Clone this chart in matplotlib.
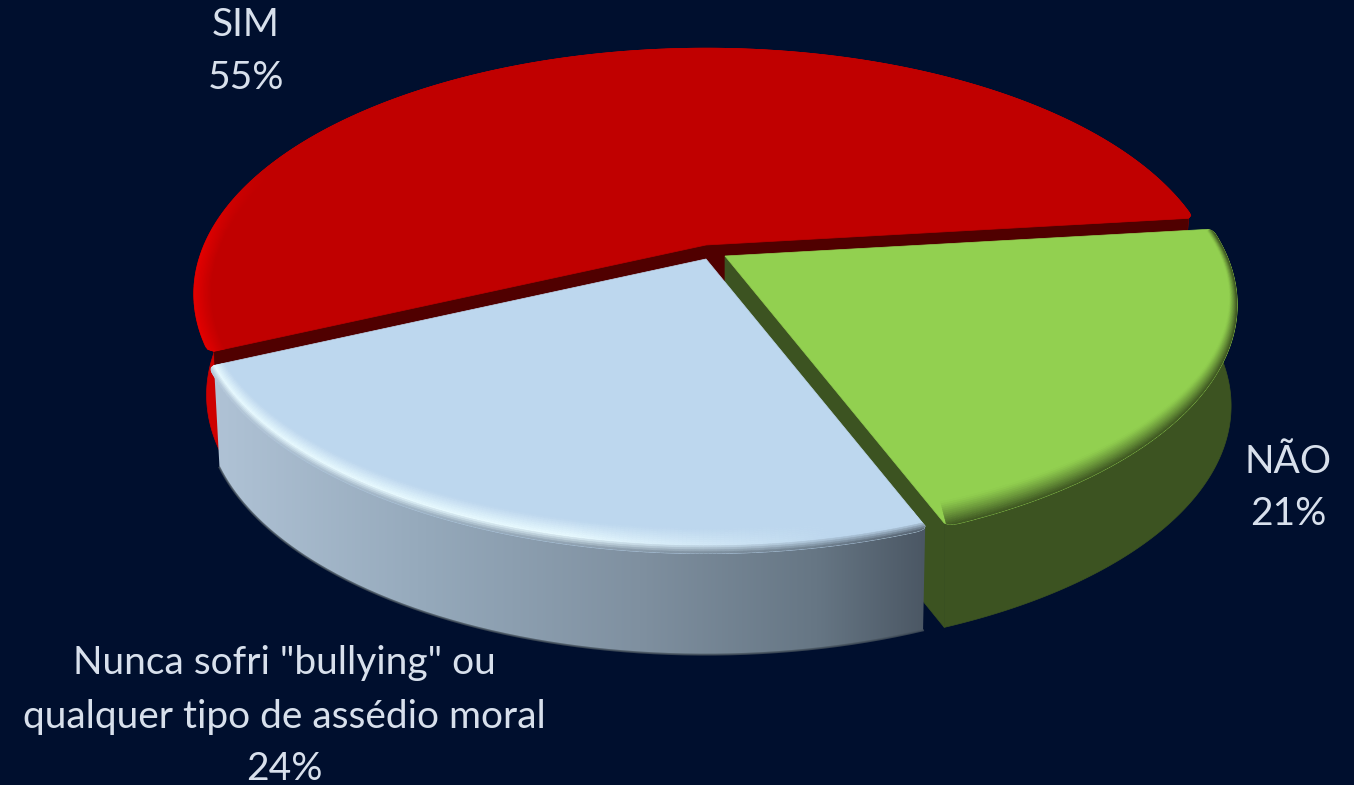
import numpy as np
import matplotlib
matplotlib.use("Agg")
import matplotlib.pyplot as plt
from matplotlib.patches import Polygon
from matplotlib.collections import PolyCollection
from matplotlib.colors import to_rgb, LinearSegmentedColormap

labels = ["SIM", "NÃO", 'Nunca sofri "bullying" ou\nqualquer tipo de assédio moral']
values = [55, 21, 24]
pct_labels = ["55%", "21%", "24%"]

BG = "#000F2E"
TXT = "#D8E0EC"
RX, RY, P = 502.0, 236.0, 0.199
DEPTH = 101.0
SHRINK = {0: 0.975, 1: 0.988, 2: 0.978}
START = 6.7
ROUND_DEG, ROUND_R = 1.4, 0.010
apex = {0: (706.0, 245.0), 1: (725.0, 256.0), 2: (706.0, 259.0)}

# slice angle ranges: SIM counter-clockwise, the others clockwise
span = [v / sum(values) * 360 for v in values]
rng = {0: (START, START + span[0]),
       1: (START - span[1], START),
       2: (START - span[1] - span[2], START - span[1])}


def proj(i, th, sx=1.0, sy=1.0, bottom=False):
    th = np.radians(th)
    x = np.cos(th) * sx
    y = -np.sin(th) * sy
    w = 1 - P * y
    cx, cy = apex[i]
    X, Y = RX * x / w, RY * y / w
    if bottom:
        X, Y = X * SHRINK[i], Y + DEPTH
    return cx + X, cy + Y


def arc(i, a, b, n=300, rounded=False, **kw):
    th = np.linspace(a, b, n)
    if rounded:
        d = np.minimum(th - a, b - th)
        u = np.clip((ROUND_DEG - d) / ROUND_DEG, 0, 1)
        r = 1 - ROUND_R * (1 - np.sqrt(1 - u ** 2))
        return np.column_stack(proj(i, th, sx=r, sy=r))
    return np.column_stack(proj(i, th, **kw))


def wedge(i):
    a, b = rng[i]
    return np.vstack([[apex[i]], arc(i, a, b, rounded=True)])


def wall(i):
    a, b = rng[i]
    return np.vstack([arc(i, a, b, rounded=True), arc(i, a, b, bottom=True)[::-1]])


def cut(i, th):
    cx, cy = apex[i]
    X, Y = proj(i, th, sx=1 - ROUND_R, sy=1 - ROUND_R)
    Xb, Yb = proj(i, th, bottom=True)
    return [(cx, cy), (X, Y), (Xb, Yb), (cx, cy + DEPTH)]


def bevel(ax, i, a, b, colfn, sa, sb, clip, nth=220, nt=14, z=5):
    ths = np.linspace(a, b, nth)
    ts = np.linspace(0, 1, nt)
    polys, cols = [], []
    for j in range(nth - 1):
        for k in range(nt - 1):
            t0, t1 = ts[k], ts[k + 1]
            q = [proj(i, ths[j], 1 - sa * (1 - t0), 1 - sb * (1 - t0)),
                 proj(i, ths[j + 1], 1 - sa * (1 - t0), 1 - sb * (1 - t0)),
                 proj(i, ths[j + 1], 1 - sa * (1 - t1), 1 - sb * (1 - t1)),
                 proj(i, ths[j], 1 - sa * (1 - t1), 1 - sb * (1 - t1))]
            polys.append(q)
            cols.append(colfn(0.5 * (ths[j] + ths[j + 1]), 0.5 * (t0 + t1)))
    pc = PolyCollection(polys, facecolors=cols, edgecolors=cols, linewidths=0.4, zorder=z)
    ax.add_collection(pc)
    pc.set_clip_path(clip)


fig = plt.figure(figsize=(13.54, 7.85), dpi=100, facecolor=BG)
ax = fig.add_axes([0, 0, 1, 1])
ax.set_xlim(0, 1354)
ax.set_ylim(785, 0)
ax.axis("off")

# --- SIM
RED, REDW, REDC, REDH = "#C00000", "#CE0000", "#500000", "#E40000"
ax.add_patch(Polygon(wall(0), fc=REDW, ec=REDW, lw=0.5, zorder=1))
a0, b0 = rng[0]
for th in (a0, b0):
    ax.add_patch(Polygon(cut(0, th), fc=REDC, ec=REDC, lw=0.5, zorder=2))
top0 = Polygon(wedge(0), fc=RED, ec=RED, lw=0.5, zorder=3)
ax.add_patch(top0)
cR, cH = np.array(to_rgb(RED)), np.array(to_rgb(REDH))


def red_bevel(th, t):
    f = np.clip((th - 160) / 22, 0, 1) * t
    return tuple(cR + (cH - cR) * f)


bevel(ax, 0, 155, b0, red_bevel, 0.035, 0.01, top0, z=4)

# --- NÃO
GRN, GRNW = "#92D050", "#3C5321"
ax.add_patch(Polygon(wall(1), fc=GRNW, ec=GRNW, lw=0.5, zorder=5))
ax.add_patch(Polygon(cut(1, rng[1][0]), fc=GRNW, ec=GRNW, lw=0.5, zorder=5))
top1 = Polygon(wedge(1), fc=GRN, ec=GRN, lw=0.5, zorder=6)
ax.add_patch(top1)
cG, cGW = np.array(to_rgb(GRN)), np.array(to_rgb(GRNW))


def green_bevel(th, t):
    return tuple(cG + (cGW - cG) * t ** 1.2)


bevel(ax, 1, rng[1][0], rng[1][1], green_bevel, 0.012, 0.075, top1, z=7)

# --- Nunca sofri
BLU = "#BDD7EE"
wall_stops = [(0.0, "#B0C3D6"), (0.3, "#95A9BB"), (0.6, "#7F90A0"),
              (0.85, "#667684"), (1.0, "#4B5764")]
wcmap = LinearSegmentedColormap.from_list("w", wall_stops)
bw = wall(2)
xmin, xmax = bw[:, 0].min(), bw[:, 0].max()
clip = Polygon(bw, fc="none", ec="none", zorder=8)
ax.add_patch(clip)
im = ax.imshow(np.linspace(0, 1, 256)[None, :], cmap=wcmap, vmin=0, vmax=1,
               extent=(xmin, xmax, 665, 360), aspect="auto", zorder=8)
im.set_clip_path(clip)
ax.set_xlim(0, 1354)
ax.set_ylim(785, 0)
edge = arc(2, rng[2][0], rng[2][1], bottom=True)
ax.plot(edge[:, 0], edge[:, 1], color="#45515C", lw=1.4, zorder=9, alpha=0.8)
top2 = Polygon(wedge(2), fc=BLU, ec=BLU, lw=0.5, zorder=10)
ax.add_patch(top2)
cB, cHi = np.array(to_rgb(BLU)), np.array(to_rgb("#E8FAFF"))


def blue_bevel(th, t):
    X, _ = proj(2, th)
    wc = np.array(wcmap((X - xmin) / (xmax - xmin))[:3])
    # highlight fades toward the right-hand end of the front edge
    h = np.clip((-78 - th) / 25, 0, 1) if th < 180 else 1.0
    peak = cB + (cHi - cB) * h
    pk = 0.65
    if t < pk:
        return tuple(cB + (peak - cB) * (t / pk))
    return tuple(peak + (wc - peak) * ((t - pk) / (1 - pk)))


bevel(ax, 2, rng[2][0], rng[2][1], blue_bevel, 0.02, 0.07, top2, z=11)

# --- labels
kw = dict(color=TXT, family=["Lato", "DejaVu Sans"], weight="normal",
          fontsize=28, ha="center", va="center", zorder=20)
ax.text(246, 25, labels[0], **kw)
ax.text(246, 78, pct_labels[0], **kw)
ax.text(1288, 462, labels[1], **kw)
ax.text(1288, 514, pct_labels[1], **kw)
l1, l2 = labels[2].split("\n")
ax.text(284, 663, l1, **kw)
ax.text(284, 717, l2, **kw)
ax.text(284, 769, pct_labels[2], **kw)

fig.savefig("out.png", dpi=100, facecolor=BG)
